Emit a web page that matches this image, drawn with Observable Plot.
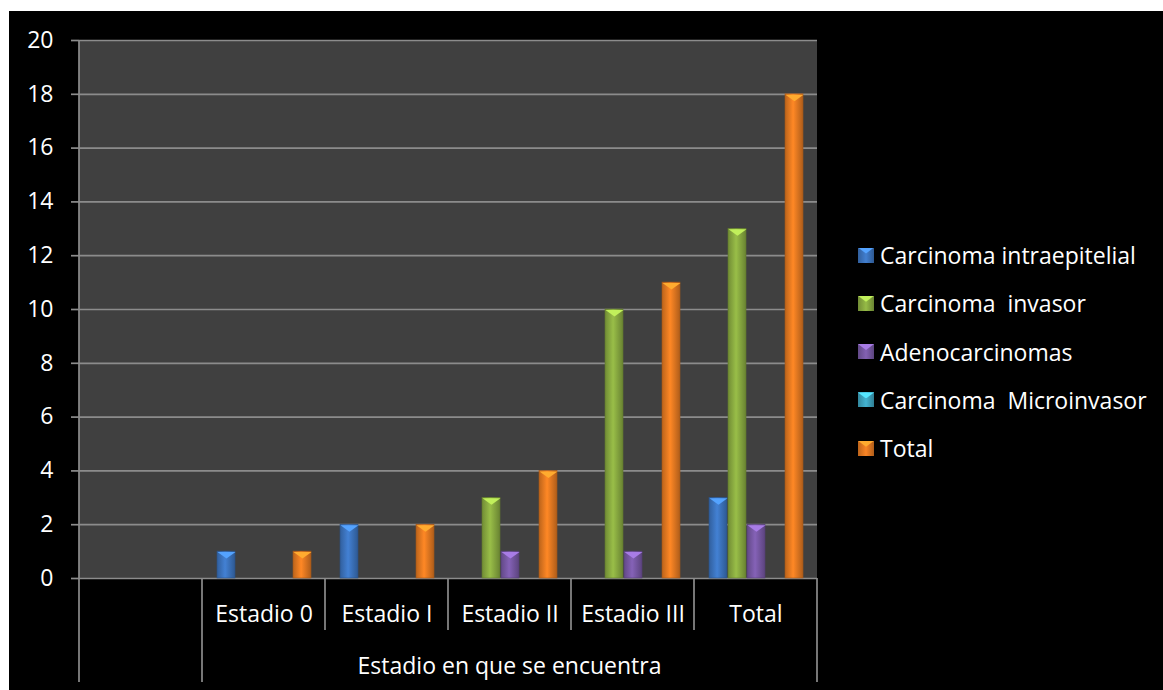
<!DOCTYPE html>
<html><head><meta charset="utf-8">
<script src="https://cdn.jsdelivr.net/npm/d3@7"></script>
<script src="https://cdn.jsdelivr.net/npm/@observablehq/plot@0.6"></script>
<style>
html,body{margin:0;padding:0;background:#fff;width:1163px;height:690px;overflow:hidden;}
#chart{position:absolute;left:9px;top:11px;width:1154px;height:679px;background:#000;font-family:"Open Sans",sans-serif;}
#chart svg{position:absolute;left:0;top:0;}
.item{position:absolute;left:849px;height:30px;display:flex;align-items:center;color:#fff;font-size:23px;white-space:pre;}
.sw{position:relative;width:16px;height:15px;margin-right:6px;}
.sw .tri{position:absolute;left:0;top:0;width:16px;height:6px;clip-path:polygon(0 0,100% 0,50% 100%);}
</style></head><body><div id="chart"></div>
<script>
// ---- data ----
const categories = ["", "Estadio 0", "Estadio I", "Estadio II", "Estadio III", "Total"];
const series = ["Carcinoma intraepitelial", "Carcinoma  invasor", "Adenocarcinomas", "Carcinoma  Microinvasor", "Total"];
const intraepitelial = [0, 1, 2, 0, 0, 3];
const invasor        = [0, 0, 0, 3, 10, 13];
const adenocarcinomas = [0, 0, 0, 1, 1, 2];
const microinvasor   = [0, 0, 0, 0, 0, 0];
const totalValues    = [0, 1, 2, 4, 11, 18];
const seriesValues = [intraepitelial, invasor, adenocarcinomas, microinvasor, totalValues];
const colors = ["#3d76c2", "#8cae42", "#7a5aa7", "#3ea7c3", "#e97c22"];
const yTicks = [0, 2, 4, 6, 8, 10, 12, 14, 16, 18, 20];
const axisTitle = "Estadio en que se encuentra";

// ---- table ----
const rows = [];
series.forEach((s, j) => categories.forEach((c, i) => rows.push({category: c, series: s, value: seriesValues[j][i], j})));

const W = 1154, H = 679, FS = 23;
const triSymbol = {draw(ctx) { ctx.moveTo(-9, 0); ctx.lineTo(9, 0); ctx.lineTo(0, 6.5); ctx.closePath(); }};

const bars = series.map((s, j) => Plot.barY(rows.filter(r => r.j === j), {
  fx: "category", x: "series", y: "value", fill: `url(#grad${j})`,
  stroke: d3.color(colors[j]).darker(1).formatHex(), strokeWidth: 0.6
}));
const tops = series.map((s, j) => Plot.dot(rows.filter(r => r.j === j && r.value > 0), {
  fx: "category", x: "series", y: "value", symbol: triSymbol, stroke: "none",
  fill: d3.color(colors[j]).brighter(0.9).formatHex(), dy: 0.5
}));

const plot = Plot.plot({
  width: W, height: H,
  marginLeft: 70, marginRight: 346, marginTop: 29, marginBottom: 112,
  style: {background: "transparent", color: "white", fontFamily: "'Open Sans', sans-serif", fontSize: FS + "px", overflow: "visible"},
  fx: {domain: categories, padding: 0, label: null, round: false},
  x: {domain: series, paddingInner: 0.06, paddingOuter: 0.74, axis: null},
  y: {domain: [0, 20], label: null},
  marks: [
    Plot.gridY(yTicks, {stroke: "#8c8c8c", strokeOpacity: 1, strokeWidth: 1.7}),
    ...bars,
    ...tops,
    Plot.axisY(yTicks, {tickSize: 8, tickPadding: 18, stroke: "#8c8c8c", strokeWidth: 1.7, fill: "white", fontSize: FS, label: null}),
    Plot.axisFx({anchor: "bottom", tickSize: 0, tickPadding: 27, fontSize: FS, fill: "white", label: null, tickFormat: d => d})
  ]
});

const svg = d3.select(plot);
const fx = plot.scale("fx"), y = plot.scale("y");
const bw = fx.bandwidth;
const y0 = y.apply(0), yTop = y.apply(20);
const xs = categories.map(c => fx.apply(c));
const xEnd = xs[xs.length - 1] + bw;

// plot-area background placed behind all marks
svg.insert("rect", ":first-child")
  .attr("x", xs[0]).attr("y", yTop).attr("width", xEnd - xs[0]).attr("height", y0 - yTop)
  .attr("fill", "#404040");

// gradients for bevelled bars
const defs = svg.insert("defs", ":first-child");
colors.forEach((c, j) => {
  const g = defs.append("linearGradient").attr("id", `grad${j}`).attr("x1", 0).attr("x2", 1).attr("y1", 0).attr("y2", 0);
  g.append("stop").attr("offset", "0%").attr("stop-color", d3.color(c).darker(0.6).formatHex());
  g.append("stop").attr("offset", "45%").attr("stop-color", d3.color(c).brighter(0.25).formatHex());
  g.append("stop").attr("offset", "100%").attr("stop-color", d3.color(c).darker(0.8).formatHex());
});

// category separators and axis title, positioned with Plot's scales
const lineG = svg.append("g").attr("stroke", "#8c8c8c").attr("stroke-width", 1.7);
const bottomFull = H - 8, bottomMid = y0 + 52;
xs.forEach((x, i) => {
  lineG.append("line").attr("x1", x).attr("x2", x)
    .attr("y1", i === 0 ? yTop : y0).attr("y2", i <= 1 ? bottomFull : bottomMid);
});
lineG.append("line").attr("x1", xEnd).attr("x2", xEnd).attr("y1", y0).attr("y2", bottomFull);
svg.append("text").attr("x", (xs[1] + xEnd) / 2).attr("y", 654)
  .attr("text-anchor", "middle").attr("dominant-baseline", "central")
  .attr("fill", "white").attr("font-size", FS).text(axisTitle);

const chart = document.getElementById("chart");
chart.appendChild(plot);

// legend
series.forEach((s, j) => {
  const item = document.createElement("div");
  item.className = "item";
  item.style.top = (244 + j * 48.3 - 15) + "px";
  const sw = document.createElement("div");
  sw.className = "sw";
  const c = d3.color(colors[j]);
  sw.style.background = `linear-gradient(to right, ${c.darker(0.6).formatHex()}, ${c.brighter(0.2).formatHex()}, ${c.darker(0.8).formatHex()})`;
  const tri = document.createElement("div");
  tri.className = "tri";
  tri.style.background = c.brighter(0.9).formatHex();
  sw.appendChild(tri);
  item.appendChild(sw);
  const t = document.createElement("span");
  t.textContent = s;
  item.appendChild(t);
  chart.appendChild(item);
});
</script>
</body></html>
